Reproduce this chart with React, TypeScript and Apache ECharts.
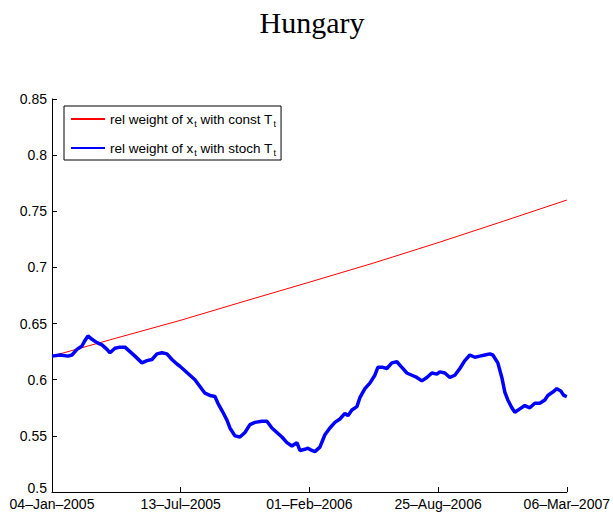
import React, { useEffect, useRef } from "react";
import * as echarts from "echarts";

const chartTitle = "Hungary";
const xTickLabels = ["04–Jan–2005", "13–Jul–2005", "01–Feb–2006", "25–Aug–2006", "06–Mar–2007"];
const yMinLabel = "0.5";
const nObs = 515; // observation index range

// relative weight with constant T (red)
const constIdx = [0, 64, 129, 193, 258, 322, 386, 451, 515];
const constVal = [0.621, 0.637, 0.653, 0.670, 0.687, 0.704, 0.722, 0.741, 0.760];

// relative weight with stochastic T (blue)
const stochIdx = [
  0, 8, 16, 20, 25, 30, 33, 36, 40, 45, 50, 55, 58, 63, 68, 73, 78, 83, 90, 95,
  100, 105, 110, 115, 120, 125, 128, 133, 138, 143, 148, 153, 158, 163, 166, 171, 175, 178, 183, 188,
  193, 198, 203, 210, 215, 220, 225, 230, 235, 240, 245, 248, 253, 256, 260, 263, 268, 273, 278, 283,
  288, 293, 296, 300, 305, 308, 313, 318, 323, 326, 331, 335, 340, 345, 350, 355, 360, 365, 370, 375,
  380, 385, 388, 393, 398, 403, 408, 413, 418, 423, 428, 433, 438, 441, 446, 450, 453, 456, 460, 463,
  468, 473, 478, 483, 488, 493, 496, 501, 505, 509, 512, 515,
];
const stochVal = [
  0.621, 0.622, 0.621, 0.622, 0.627, 0.630, 0.635, 0.639, 0.636, 0.633, 0.631, 0.627, 0.624, 0.628, 0.629, 0.629, 0.625, 0.621, 0.615, 0.617,
  0.618, 0.623, 0.624, 0.623, 0.618, 0.614, 0.612, 0.608, 0.604, 0.600, 0.594, 0.588, 0.586, 0.585, 0.579, 0.571, 0.564, 0.557, 0.550, 0.549,
  0.553, 0.560, 0.562, 0.563, 0.563, 0.557, 0.553, 0.549, 0.544, 0.541, 0.544, 0.537, 0.538, 0.539, 0.537, 0.536, 0.540, 0.551, 0.557, 0.562,
  0.565, 0.570, 0.568, 0.573, 0.576, 0.584, 0.592, 0.597, 0.604, 0.611, 0.611, 0.610, 0.615, 0.616, 0.611, 0.606, 0.604, 0.602, 0.599, 0.602,
  0.606, 0.605, 0.607, 0.606, 0.602, 0.604, 0.610, 0.617, 0.622, 0.620, 0.621, 0.622, 0.623, 0.622, 0.615, 0.602, 0.589, 0.582, 0.575, 0.571,
  0.574, 0.577, 0.575, 0.579, 0.579, 0.582, 0.586, 0.589, 0.592, 0.590, 0.586, 0.585,
];

const seriesNames = ["const", "stoch"];

export default function App() {
  const ref = useRef<HTMLDivElement>(null);
  useEffect(() => {
    if (!ref.current) return;
    const chart = echarts.init(ref.current, null, { renderer: "svg" });
    const font = "'Liberation Sans', Arial, Helvetica, sans-serif";
    const tickStep = nObs / 4;
    chart.setOption({
      animation: false,
      backgroundColor: "#ffffff",
      graphic: [
        {
          type: "text",
          style: {
            x: 312,
            y: 22,
            text: chartTitle,
            textAlign: "center",
            verticalAlign: "middle",
            fontFamily: "'Liberation Serif', 'Times New Roman', serif",
            fontSize: 30,
            fill: "#000",
          },
        },
        {
          type: "text",
          style: {
            x: 47,
            y: 488,
            text: yMinLabel,
            textAlign: "right",
            verticalAlign: "middle",
            fontFamily: font,
            fontSize: 14,
            fill: "#000",
          },
        },
      ],
      grid: { left: 52, right: 46, top: 99, bottom: 24, containLabel: false },
      legend: {
        orient: "vertical",
        left: 64,
        top: 106,
        padding: [5, 5, 3, 6],
        itemGap: 12,
        itemWidth: 34,
        itemHeight: 14,
        borderColor: "#000",
        borderWidth: 1,
        backgroundColor: "#fff",
        data: seriesNames,
        itemStyle: { color: "rgba(0,0,0,0)", borderColor: "rgba(0,0,0,0)", borderWidth: 0 },
        formatter: (name: string) =>
          name === "const"
            ? "{b|rel weight of x}{s|t}{b| with const T}{s|t}"
            : "{b|rel weight of x}{s|t}{b| with stoch T}{s|t}",
        textStyle: {
          color: "#000",
          fontFamily: font,
          fontSize: 13.5,
          rich: {
            b: { fontFamily: font, fontSize: 13.5, color: "#000", lineHeight: 16 },
            s: { fontFamily: font, fontSize: 9, color: "#000", lineHeight: 9, padding: [8, 0, 0, 1], verticalAlign: "top" },
          },
        },
      },
      xAxis: {
        type: "value",
        min: 0,
        max: nObs,
        interval: tickStep,
        splitLine: { show: false },
        axisLine: { lineStyle: { color: "#000", width: 1 } },
        axisTick: { inside: true, length: 5, lineStyle: { color: "#000" } },
        axisLabel: {
          color: "#000",
          fontFamily: font,
          fontSize: 14,
          margin: 5,
          formatter: (v: number) => xTickLabels[Math.round(v / tickStep)] ?? "",
        },
      },
      yAxis: {
        type: "value",
        min: 0.5,
        max: 0.85,
        interval: 0.05,
        splitLine: { show: false },
        axisLine: { lineStyle: { color: "#000", width: 1 } },
        axisTick: { inside: true, length: 5, lineStyle: { color: "#000" } },
        axisLabel: {
          showMinLabel: false,
          color: "#000",
          fontFamily: font,
          fontSize: 14,
          margin: 5,
          formatter: (v: number) => String(parseFloat(v.toFixed(2))),
        },
      },
      series: [
        {
          name: "const",
          type: "line",
          symbol: "none",
          data: constIdx.map((x, i) => [x, constVal[i]]),
          lineStyle: { color: "#ff0000", width: 1 },
          itemStyle: { color: "#ff0000" },
        },
        {
          name: "stoch",
          type: "line",
          symbol: "none",
          data: stochIdx.map((x, i) => [x, stochVal[i]]),
          lineStyle: { color: "#0000ff", width: 3.5 },
          itemStyle: { color: "#0000ff" },
        },
      ],
    });
    return () => chart.dispose();
  }, []);
  return <div ref={ref} style={{ position: "fixed", left: 0, top: 0, width: 613, height: 516 }} />;
}
